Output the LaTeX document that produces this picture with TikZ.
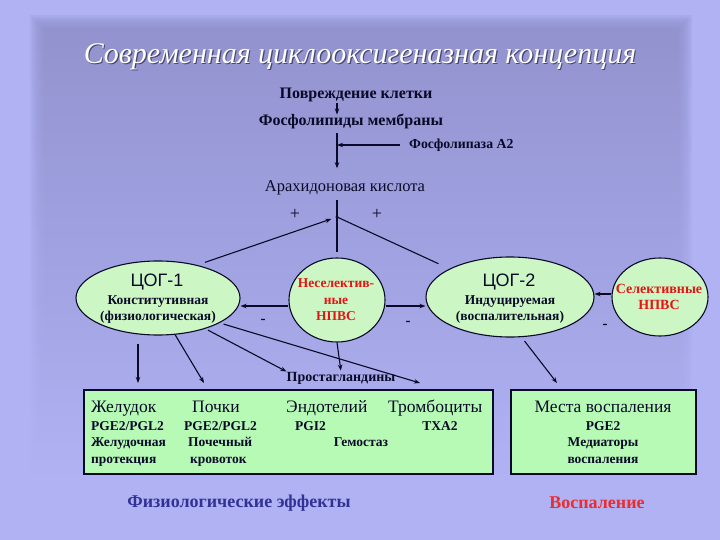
\documentclass[tikz,border=0pt]{standalone}
\usepackage{fontspec}
\setmainfont{Liberation Serif}
\newfontfamily\sansf{Liberation Sans}
\usetikzlibrary{shapes.geometric,arrows.meta}
\definecolor{bgout}{RGB}{176,178,244}
\definecolor{panel}{RGB}{142,142,201}
\definecolor{ellgreen}{RGB}{204,247,196}
\definecolor{boxgreen}{RGB}{182,250,182}
\definecolor{ink}{RGB}{10,10,40}
\definecolor{redtxt}{RGB}{228,20,20}
\definecolor{redbig}{RGB}{235,45,45}
\definecolor{bluetxt}{RGB}{50,50,150}
\definecolor{tshadow}{RGB}{70,70,110}
\tikzset{
  conn/.style={draw=ink, line width=1.1pt},
  arr/.style={conn, -{Stealth[length=6pt,width=4.5pt]}},
  ell/.style={ellipse, draw=ink, line width=1.1pt, fill=ellgreen, inner sep=0pt},
  boxg/.style={rectangle, draw=ink, line width=1.1pt, fill=boxgreen, inner sep=0pt},
  txt/.style={inner sep=0pt, text=ink},
  bl/.style={txt, font=\bfseries\fontsize{13.5}{15}\selectfont, text height=9.5pt, text depth=3pt},
  blbig/.style={txt, font=\bfseries\fontsize{16}{18}\selectfont, text height=11pt, text depth=3.5pt},
  rl/.style={txt, font=\fontsize{17.5}{19}\selectfont, text height=12pt, text depth=4pt},
  redl/.style={inner sep=0pt, text=redtxt, font=\bfseries\fontsize{13.5}{15}\selectfont, text height=9.5pt, text depth=3pt},
  cog/.style={txt, font=\sansf\fontsize{18}{20}\selectfont, text height=13pt, text depth=0pt},
  sign/.style={txt, font=\fontsize{18}{20}\selectfont},
  minus/.style={txt, font=\bfseries\fontsize{15}{16}\selectfont},
}
\begin{document}
\begin{tikzpicture}[x=1pt,y=-1pt]
\useasboundingbox (0,0) rectangle (720,540);
% background
\fill[bgout] (0,0) rectangle (720,540);
\foreach \i in {0,...,7} {
  \shade[top color=panel, middle color=panel, bottom color=bgout, opacity=0.2]
    (30+2*\i,16+2*\i) rectangle (692-2*\i,480-2*\i);
}
% title
\node[inner sep=0pt, text=white, font=\itshape\fontsize{30}{34}\selectfont] (title) at (360,57)
  {\makebox[0pt][l]{\kern1.2pt\raisebox{-1.2pt}{\color{tshadow}Современная циклооксигеназная концепция}}Современная циклооксигеназная концепция};
% top chain
\coordinate (ap) at (337,217);
\node[blbig] (povr) at (356,95) {Повреждение клетки};
\node[blbig] (fosf) at (351,122) {Фосфолипиды мембраны};
\node[bl, anchor=west, font=\bfseries\fontsize{13.8}{15}\selectfont] (fla) at (409,145) {Фосфолипаза А2};
\node[txt, font=\fontsize{16.5}{18}\selectfont, text height=11.5pt, text depth=3.5pt] (arach) at (345,188) {Арахидоновая кислота};
\draw[arr, shorten <=1pt] (povr.south -| ap) -- (fosf.north -| ap);
\draw[arr, shorten <=4pt, shorten >=12pt] (fosf.south -| ap) -- (arach.north -| ap);
\draw[arr, line width=1.6pt] ([xshift=-9pt]fla.west) -- (fla.west -| ap);
\node[sign] (plus1) at (295,214) {+};
\node[sign] (plus2) at (377,214) {+};
% ellipses
\node[ell, minimum width=164pt, minimum height=74pt] (cog1) at (158,298) {};
\node[ell, minimum width=96pt, minimum height=84pt] (nsel) at (337,300) {};
\node[ell, minimum width=168pt, minimum height=80pt] (cog2) at (510,297) {};
\node[ell, minimum width=96pt, minimum height=78pt] (sel) at (660,297) {};
\draw[conn, shorten <=4pt, shorten >=5pt] (arach.south -| ap) -- (nsel.north);
\fill[ink] (ap) circle (1.6pt);
\draw[arr, shorten <=8pt, shorten >=6pt] (cog1.40) -- (ap);
\draw[conn, shorten <=1pt, shorten >=12pt] (ap) -- (cog2.155);
% ellipse texts
\node[cog] (cog1t) at (157,280) {ЦОГ-1};
\node[bl] (cog1a) at (158,301) {Конститутивная};
\node[bl] (cog1b) at (158,317) {(физиологическая)};
\node[redl] (nsa) at (336,284) {Неселектив-};
\node[redl] (nsb) at (336,301) {ные};
\node[redl] (nsc) at (336,317) {НПВС};
\node[cog] (cog2t) at (509,280) {ЦОГ-2};
\node[bl] (cog2a) at (510,301) {Индуцируемая};
\node[bl] (cog2b) at (510,317) {(воспалительная)};
\node[redl, font=\bfseries\fontsize{14}{15}\selectfont] (sela) at (659,290) {Селективные};
\node[redl, font=\bfseries\fontsize{14}{15}\selectfont] (selb) at (659,306) {НПВС};
% inhibitions
\draw[arr] ([yshift=-6pt]nsel.west) -- ([yshift=-6pt]nsel.west -| cog1.east);
\draw[arr] ([yshift=-6pt]nsel.east) -- ([yshift=-6pt]nsel.east -| cog2.west);
\draw[arr] ([yshift=3pt]sel.west) -- ([yshift=3pt]sel.west -| cog2.east);
\node[minus] (m1) at (263,321) {-};
\node[minus] (m2) at (408,323) {-};
\node[minus] (m3) at (605,326) {-};
% prostaglandins
\node[bl, font=\bfseries\fontsize{14}{15}\selectfont] (pg) at (341,378) {Простагландины};
% boxes
\node[boxg, minimum width=409pt, minimum height=84pt] (box1) at (288.5,432) {};
\node[boxg, minimum width=185pt, minimum height=84pt] (box2) at (603.5,432) {};
\coordinate (f1) at (138,383);
\coordinate (f2) at (204,383);
\coordinate (f4) at (420,383);
\coordinate (f5) at (557,383);
\draw[arr, shorten <=8pt] (f1 |- cog1.south) -- (f1);
\draw[arr] (cog1.-65) -- (f2);
\draw[arr, shorten <=3pt] (cog1.-33) -- (pg.north west);
\draw[arr, shorten <=4pt] (cog1.-22) -- (f4);
\draw[arr, shorten >=1pt] (nsel.south) -- (pg.north);
\draw[arr, shorten <=5pt] (cog2.-74) -- (f5);
% box 1 texts
\node[rl, anchor=west] (zh) at (91,408) {Желудок};
\node[rl, anchor=west] (po) at (192,408) {Почки};
\node[rl, anchor=west] (en) at (286,408) {Эндотелий};
\node[rl, anchor=west] (tr) at (388,408) {Тромбоциты};
\node[bl, anchor=west] (zh2) at (91,427) {PGE2/PGL2};
\node[bl, anchor=west] (po2) at (184,427) {PGE2/PGL2};
\node[bl, anchor=west] (en2) at (295,427) {PGI2};
\node[bl] (tr2) at (440,427) {TXA2};
\node[bl, anchor=west] (zh3) at (91,443) {Желудочная};
\node[bl, anchor=west] (po3) at (188,443) {Почечный};
\node[bl] (gem) at (361,443) {Гемостаз};
\node[bl, anchor=west] (zh4) at (91,460) {протекция};
\node[bl, anchor=west] (po4) at (190,460) {кровоток};
% box 2 texts
\node[rl] (mv) at (603,408) {Места воспаления};
\node[bl] (mv2) at (603,427) {PGE2};
\node[bl] (mv3) at (603,443) {Медиаторы};
\node[bl] (mv4) at (603,460) {воспаления};
% bottom labels
\node[inner sep=0pt, text=bluetxt, font=\bfseries\fontsize{18}{20}\selectfont] (phys) at (239,503) {Физиологические эффекты};
\node[inner sep=0pt, text=redbig, font=\bfseries\fontsize{18}{20}\selectfont] (infl) at (597,503) {Воспаление};
\end{tikzpicture}
\end{document}
